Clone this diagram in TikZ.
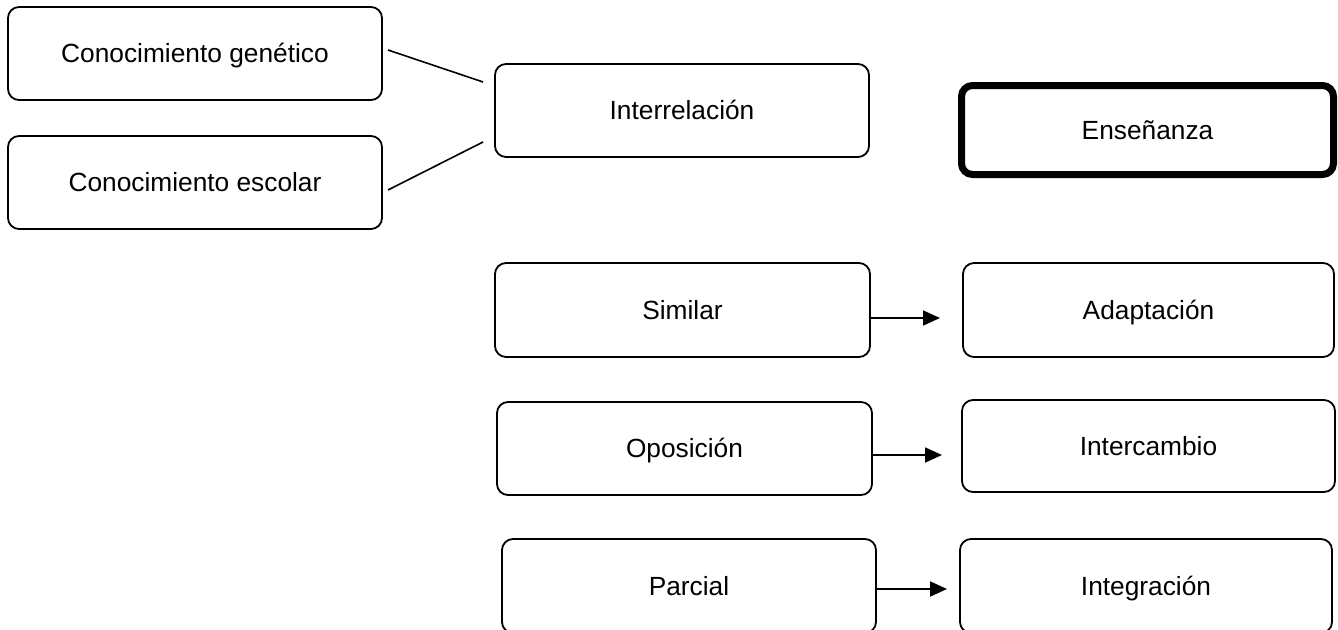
\documentclass[tikz,border=0pt]{standalone}
\usepackage{fontspec}
\setmainfont{Liberation Sans}
\usetikzlibrary{arrows.meta}
\begin{document}
\begin{tikzpicture}[x=1pt,y=-1pt,
  box/.style={draw=black,line width=1.8pt,rounded corners=11pt,fill=white,
    minimum height=93pt,inner sep=0pt,text height=18.5pt,text depth=0pt,
    font=\fontsize{26.3}{30}\selectfont},
  thickbox/.style={box,line width=7pt},
  conn/.style={line width=1.6pt},
  arr/.style={line width=1.8pt,-{Triangle[length=17pt,width=15pt]}}]
\clip (0,0) rectangle (1338,629);
\fill[white] (0,0) rectangle (1338,629);
\node[box,minimum width=374pt] (gen) at (195,53.5) {Conocimiento genético};
\node[box,minimum width=374pt] (esc) at (195,182.5) {Conocimiento escolar};
\node[box,minimum width=374pt] (inter) at (682,110.5) {Interrelación};
\node[thickbox,minimum width=372pt,minimum height=89pt] (ens) at (1147.5,130) {Enseñanza};
\node[box,minimum width=375pt,minimum height=94pt] (sim) at (682.5,310) {Similar};
\node[box,minimum width=371pt,minimum height=94pt] (ada) at (1148.5,310) {Adaptación};
\node[box,minimum width=375pt] (opo) at (684.5,448.5) {Oposición};
\node[box,minimum width=373pt,minimum height=92pt] (inc) at (1148.5,446) {Intercambio};
\node[box,minimum width=374pt,minimum height=94pt] (par) at (689,586) {Parcial};
\node[box,minimum width=372pt,minimum height=94pt] (int) at (1146,586) {Integración};
% connectors
\coordinate (g1) at (388,50);
\coordinate (g2) at (483,82);
\coordinate (e1) at (388,190);
\coordinate (e2) at (483,142);
\draw[conn] (g1) -- (g2);
\draw[conn] (e1) -- (e2);
\coordinate (a1) at (940,318);
\coordinate (a2) at (942,455);
\coordinate (a3) at (947,589);
\draw[arr] (sim.east |- a1) -- (a1);
\draw[arr] (opo.east |- a2) -- (a2);
\draw[arr] (par.east |- a3) -- (a3);
\end{tikzpicture}
\end{document}
